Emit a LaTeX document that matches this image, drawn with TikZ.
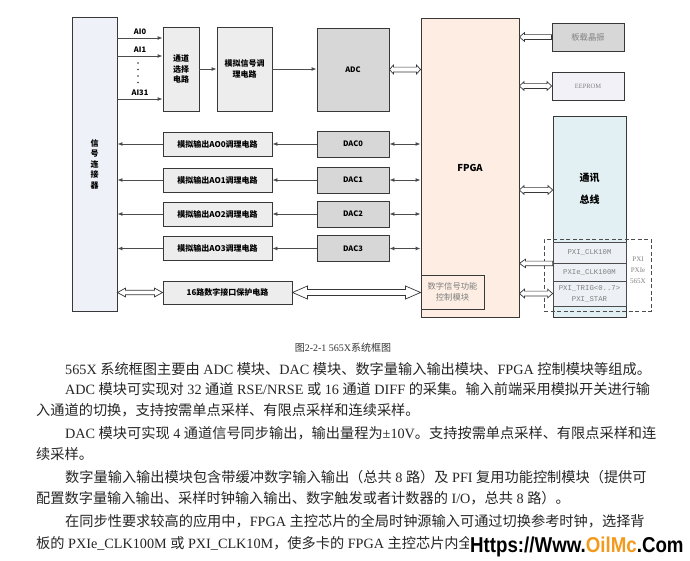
\documentclass[tikz,border=0pt]{standalone}
\usepackage{fontspec}
\setmainfont{Liberation Serif}
\newfontfamily\cjk{Noto Sans CJK SC}
\newfontfamily\monof{Liberation Mono}
\newfontfamily\wmfont[FakeStretch=0.87]{Liberation Sans}
\usetikzlibrary{arrows.meta,calc,shadows}
\definecolor{connc}{HTML}{EEF1F7}
\definecolor{lgray}{HTML}{EDEDED}
\definecolor{mgray}{HTML}{D7D7D7}
\definecolor{fpgac}{HTML}{FDEDE3}
\definecolor{eepc}{HTML}{F3F1F8}
\definecolor{busc}{HTML}{E2F0F4}
\definecolor{rowc}{HTML}{EDF0F4}
\definecolor{wmorange}{HTML}{F39A1E}
\newcommand\lbl{\cjk\bfseries\fontsize{8}{10.5}\selectfont}
\newcommand\lbls{\cjk\bfseries\fontsize{7.5}{9}\selectfont}
\newcommand\bodyf{\fontsize{14.2}{17}\selectfont}
\newcommand\zh[1]{{\cjk #1}}
% hollow block arrows (horizontal)
\newcommand\sblk[5]{\draw[blk] let \p1=#1, \p2=#2, \n1={sign(\x2-\x1)} in
  ({\x1},{\y1+#5}) -- ({\x2-(\n1)*#3},{\y1+#5}) -- ({\x2-(\n1)*#3},{\y1+#4}) -- ({\x2},{\y1})
  -- ({\x2-(\n1)*#3},{\y1-#4}) -- ({\x2-(\n1)*#3},{\y1-#5}) -- ({\x1},{\y1-#5}) -- cycle;}
\newcommand\dblk[5]{\draw[blk] let \p1=#1, \p2=#2, \n1={sign(\x2-\x1)} in
  ({\x1},{\y1}) -- ({\x1+(\n1)*#3},{\y1+#4}) -- ({\x1+(\n1)*#3},{\y1+#5}) -- ({\x2-(\n1)*#3},{\y1+#5})
  -- ({\x2-(\n1)*#3},{\y1+#4}) -- ({\x2},{\y1}) -- ({\x2-(\n1)*#3},{\y1-#4}) -- ({\x2-(\n1)*#3},{\y1-#5})
  -- ({\x1+(\n1)*#3},{\y1-#5}) -- ({\x1+(\n1)*#3},{\y1-#4}) -- cycle;}
\begin{document}
\begin{tikzpicture}[x=1pt,y=-1pt,
  box/.style={draw=black!78, line width=0.9pt, inner sep=1pt, align=center, font=\lbl},
  arr/.style={draw=black!70, line width=0.9pt, -{Latex[length=5pt,width=4pt]}},
  darr/.style={draw=black!70, line width=0.9pt, {Latex[length=5pt,width=4pt]}-{Latex[length=5pt,width=4pt]}},
  blk/.style={draw=black!78, line width=0.7pt, fill=white, line join=miter},
  rowbox/.style={draw=black!70, line width=0.8pt, fill=rowc, inner sep=0pt, align=center,
    minimum width=73pt, font=\monof\fontsize{7.3}{11}\selectfont, text=black!50},
  body/.style={anchor=base west, inner sep=0pt, font=\bodyf, text=black!85},
  shad/.style={drop shadow={shadow xshift=1.3pt, shadow yshift=-1.3pt, fill=black!40, opacity=1}},
]
\useasboundingbox (0,0) rectangle (690,560);
\fill[white] (0,0) rectangle (690,560);

% ---- left column
\node[box, fill=connc, minimum width=45pt, minimum height=294pt] (conn) at (94.5,164) {信\\号\\连\\接\\器};
\node[box, fill=lgray, minimum width=36pt, minimum height=84pt] (chsel) at (181,69) {通道\\选择\\电路};
\node[box, fill=lgray, minimum width=55pt, minimum height=84pt] (cond) at (244.5,69) {模拟信号调\\理电路};
\node[box, fill=mgray, minimum width=72pt, minimum height=83pt, font=\lbls] (adc) at (353,69.5) {ADC};

\node[box, fill=fpgac, shad, minimum width=98pt, minimum height=299pt, font=\cjk\bfseries\fontsize{9.5}{11}\selectfont] (fpga) at (470,167.5) {FPGA};
\node[box, fill=fpgac, minimum width=63pt, minimum height=34pt, font=\cjk\fontsize{8.3}{11}\selectfont, text=black!50] (ctrl) at (452.5,292) {数字信号功能\\控制模块};

\foreach \i/\yy in {0/144,1/180,2/214,3/248.5} {
  \node[box, fill=mgray, minimum width=72pt, minimum height=26pt, font=\lbls] (dac\i) at (353,\yy) {DAC\i};
  \node[box, fill=lgray, minimum width=109pt, minimum height=24pt] (ao\i) at (217.5,\yy) {模拟输出AO\i 调理电路};
}
\node[box, fill=lgray, minimum width=129pt, minimum height=23pt] (d16) at (227.5,292.5) {16路数字接口保护电路};

% ---- right column
\node[box, fill=mgray, shad, minimum width=72pt, minimum height=28pt, font=\cjk\fontsize{8.3}{10}\selectfont, text=black!50] (osc) at (588,37) {板载晶振};
\node[box, fill=eepc, shad, minimum width=72pt, minimum height=28pt, font=\fontsize{6.5}{8}\selectfont, text=black!50] (eeprom) at (588,86) {EEPROM};
\node[box, fill=busc, minimum width=73pt, minimum height=201pt] (bus) at (589.5,216.5) {};
\node[font=\cjk\bfseries\fontsize{10}{22}\selectfont, align=center] (bustxt) at (589.5,189) {通讯\\总线};
\node[rowbox, minimum height=21pt] (clk10) at (589.5,252.5) {PXI\_CLK10M};
\node[rowbox, minimum height=18pt] (clk100) at (589.5,272) {PXIe\_CLK100M};
\node[rowbox, minimum height=25pt] (trig) at (589.5,293.5) {PXI\_TRIG<0..7>\\PXI\_STAR};
\node[draw=black!70, dash pattern=on 4pt off 2.5pt, line width=1pt, minimum width=107pt, minimum height=72pt, inner sep=0pt] (pxigrp) at (597.5,275) {};
\node[font=\fontsize{7}{11}\selectfont, text=black!50, align=center] (pxilbl) at (638,270) {PXI\\PXIe\\565X};

% ---- analog input connectors
\coordinate (ai0) at (0,38);
\coordinate (ai1) at (0,56);
\coordinate (ai31) at (0,99);
\draw[arr] (conn.east |- ai0) -- node[above=-0.5pt, font=\lbls] {AI0} (chsel.west |- ai0);
\draw[arr] (conn.east |- ai1) -- node[above=-0.5pt, font=\lbls] {AI1} (chsel.west |- ai1);
\draw[arr] (conn.east |- ai31) -- node[above=-0.5pt, font=\lbls] {AI31} (chsel.west |- ai31);
\foreach \yy in {63,69.5,76,82.5} \fill[black!80] (138,\yy) circle (0.8pt);
\draw[arr] (chsel.east) -- (cond.west);
\draw[arr] (cond.east) -- (adc.west |- cond.east);
\dblk{(adc.east)}{(fpga.west |- adc.east)}{4pt}{4.4pt}{2.4pt}

% ---- analog outputs
\foreach \i in {0,...,3} {
  \draw[arr] (dac\i.west) -- (ao\i.east);
  \draw[arr] (ao\i.west) -- (conn.east |- ao\i.west);
  \draw[darr] (dac\i.east) -- (fpga.west |- dac\i.east);
}

% ---- digital
\dblk{(conn.east |- d16.west)}{(d16.west)}{8pt}{4.4pt}{2.3pt}
\dblk{(d16.east)}{(ctrl.west |- d16.east)}{15pt}{6.5pt}{3pt}

% ---- right side arrows
\sblk{(osc.west)}{(fpga.east |- osc.west)}{5pt}{4.4pt}{2.4pt}
\dblk{(fpga.east |- eeprom.west)}{(eeprom.west)}{4.5pt}{4.4pt}{2.4pt}
\coordinate (busy) at (0,190);
\dblk{(fpga.east |- busy)}{(bus.west |- busy)}{4.5pt}{4.4pt}{2.4pt}
\sblk{(clk10.south west)}{(fpga.east |- clk10.south west)}{6pt}{4.2pt}{2.3pt}
\dblk{(fpga.east |- trig.west)}{(trig.west)}{5pt}{4.4pt}{2.4pt}

% ---- caption and body text
\node[font=\fontsize{10}{12}\selectfont, text=black!80] (cap) at (343,348) {\zh{图}2-2-1 565X\zh{系统框图}};
\node[body] (l1) at (65,374) {565X \zh{系统框图主要由} ADC \zh{模块、}DAC \zh{模块、数字量输入输出模块、}FPGA \zh{控制模块等组成。}};
\node[body] (l2) at (65,394) {ADC \zh{模块可实现对} 32 \zh{通道} RSE/NRSE \zh{或} 16 \zh{通道} DIFF \zh{的采集。输入前端采用模拟开关进行输}};
\node[body] (l3) at (36,415) {\zh{入通道的切换，支持按需单点采样、有限点采样和连续采样。}};
\node[body] (l4) at (65,438) {DAC \zh{模块可实现} 4 \zh{通道信号同步输出，输出量程为}±10V\zh{。支持按需单点采样、有限点采样和连}};
\node[body] (l5) at (36,459) {\zh{续采样。}};
\node[body] (l6) at (65,482) {\zh{数字量输入输出模块包含带缓冲数字输入输出（总共} 8 \zh{路）及} PFI \zh{复用功能控制模块（提供可}};
\node[body] (l7) at (36,503) {\zh{配置数字量输入输出、采样时钟输入输出、数字触发或者计数器的} I/O\zh{，总共} 8 \zh{路）。}};
\node[body] (l8) at (65,526) {\zh{在同步性要求较高的应用中，}FPGA \zh{主控芯片的全局时钟源输入可通过切换参考时钟，选择背}};
\node[body] (l9) at (36,548) {\zh{板的} PXIe\_CLK100M \zh{或} PXI\_CLK10M\zh{，使多卡的} FPGA \zh{主控芯片内全}};
\node[anchor=base west, fill=white, inner sep=1pt, font=\wmfont\bfseries\fontsize{21.5}{22}\selectfont] (wm) at (469,552) {Https://Www.\textcolor{wmorange}{OilMc}.Com};
\end{tikzpicture}
\end{document}
